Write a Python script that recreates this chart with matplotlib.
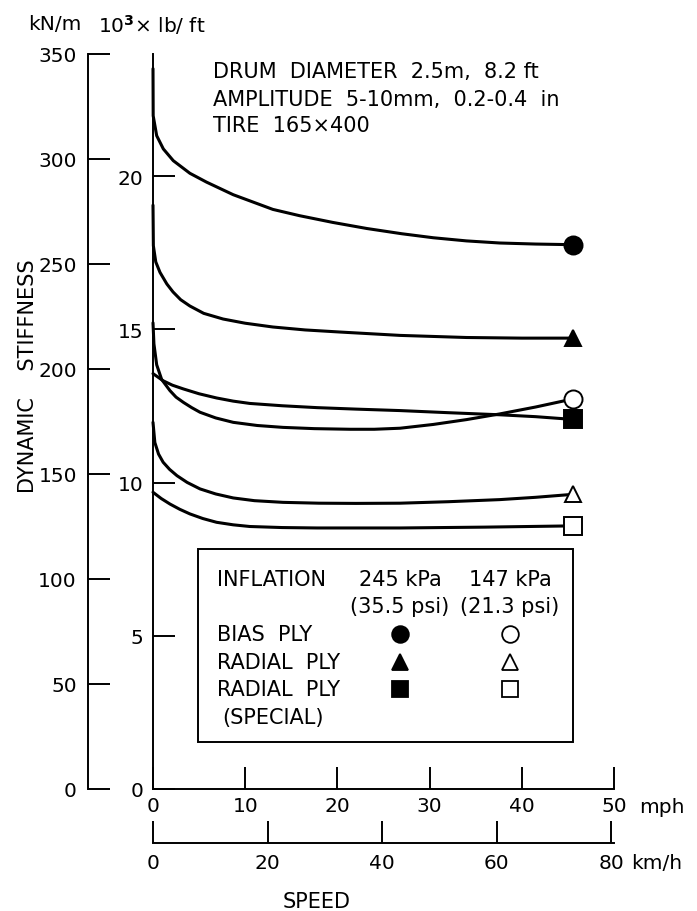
import matplotlib
matplotlib.use("Agg")
import matplotlib.pyplot as plt
from matplotlib.patches import Rectangle

plt.rcParams['font.family'] = ['DejaVu Sans']

# speed in mph, dynamic stiffness in kN/m
bias_245_x = [0, 0.02, 0.4, 1.12, 2.2, 4.0, 5.8, 8.7, 13, 15.9, 19.5, 23.2, 27, 30.4, 34, 37.6, 41.5, 45.5]
bias_245_y = [343, 320.6, 311.1, 304.8, 299.2, 293.2, 289, 283, 276, 273, 269.8, 266.9, 264.4, 262.5, 261, 260, 259.5, 259.2]

radial_245_x = [0, 0.04, 0.3, 0.76, 1.5, 2.17, 3, 4, 5.5, 7.6, 10, 13, 16.5, 20.3, 26.8, 34, 40, 45.5]
radial_245_y = [278, 258.7, 251, 246, 240.5, 236.7, 233, 230, 226.5, 223.8, 221.8, 220, 218.6, 217.6, 216, 215, 214.7, 214.7]

special_245_x = [0, 1.1, 2.1, 3.3, 5, 6.9, 8.7, 10.5, 14, 17.8, 22, 26.8, 32, 37.6, 41.5, 45.5]
special_245_y = [197.8, 194.4, 192.3, 190.5, 188.2, 186.2, 184.7, 183.6, 182.5, 181.6, 180.9, 180.2, 179.2, 178.2, 177.3, 176.0]

bias_147_x = [0, 0.1, 0.4, 0.94, 1.84, 2.5, 3.3, 4.2, 5.1, 6.8, 8.7, 11.3, 14.1, 17.5, 21.4, 24, 26.8, 30.4, 34, 37.6, 41.5, 45.5]
bias_147_y = [222, 212, 202, 195, 189.7, 186.6, 184.1, 181.6, 179.4, 176.7, 174.6, 173.1, 172.2, 171.6, 171.3, 171.3, 171.8, 173.6, 175.9, 178.6, 181.9, 185.7]

radial_147_x = [0, 0.2, 0.6, 1.1, 1.8, 2.6, 3.7, 5.1, 6.8, 8.7, 11, 14.1, 18, 22, 26.8, 32, 37.6, 41.5, 45.5]
radial_147_y = [174.6, 165, 159.5, 155.6, 152.2, 149.2, 146, 142.9, 140.5, 138.6, 137.3, 136.5, 136.1, 136, 136.1, 136.8, 137.8, 138.9, 140.3]

special_147_x = [0, 0.9, 1.84, 2.9, 4, 5.4, 6.9, 8.7, 10.5, 14, 17.8, 26.8, 36, 45.5]
special_147_y = [141.3, 138.3, 135.7, 133.2, 131, 128.8, 127, 125.8, 125, 124.5, 124.3, 124.3, 124.7, 125.3]

kn_ticks = [0, 50, 100, 150, 200, 250, 300, 350]
klb_ticks = [0, 5, 10, 15, 20]
mph_ticks = [0, 10, 20, 30, 40, 50]
kmh_ticks = [0, 20, 40, 60, 80]

KN_PER_KLB = 14.594   # 1000 lb/ft in kN/m
KMH_PER_MPH = 1.609344

W, H = 697, 912
def fx(px):
    return px / W
def fy(py):
    return 1 - py / H

fig = plt.figure(figsize=(W / 100, H / 100), dpi=100)
ax = fig.add_axes([fx(153), fy(790), (614 - 153) / W, (790 - 55) / H])
ax.set_xlim(0, 50)
ax.set_ylim(0, 350)
ax.spines['top'].set_visible(False)
ax.spines['right'].set_visible(False)
for s in ['left', 'bottom']:
    ax.spines[s].set_linewidth(1.4)

fs = 14.5    # tick labels
ft = 15      # other text
lw = 2.2
series = [
    (bias_245_x, bias_245_y, 'o', 'black'),
    (radial_245_x, radial_245_y, '^', 'black'),
    (special_245_x, special_245_y, 's', 'black'),
    (bias_147_x, bias_147_y, 'o', 'white'),
    (radial_147_x, radial_147_y, '^', 'white'),
    (special_147_x, special_147_y, 's', 'white'),
]
for xs, ys, m, fc in series:
    ax.plot(xs, ys, color='black', lw=lw, solid_capstyle='round', solid_joinstyle='round', clip_on=False)
    ax.plot(xs[-1], ys[-1], marker=m, ms=13 if m != '^' else 12, mfc=fc, mec='black',
            mew=1.4, ls='none', clip_on=False)

# lb/ft scale on the main left spine
ax.set_yticks([v * KN_PER_KLB for v in klb_ticks], [str(v) for v in klb_ticks])
ax.tick_params(axis='y', direction='in', length=16, width=1.4, pad=7, labelsize=fs)

# mph scale
ax.set_xticks(mph_ticks, [str(v) for v in mph_ticks])
ax.tick_params(axis='x', direction='in', length=16, width=1.4, pad=5, labelsize=fs)

# kN/m scale on a separate spine further left
sec_y = ax.secondary_yaxis(-65 / 461, functions=(lambda v: v, lambda v: v))
sec_y.set_yticks(kn_ticks, [str(v) for v in kn_ticks])
sec_y.tick_params(direction='in', length=16, width=1.4, pad=8, labelsize=fs)
sec_y.spines['left'].set_linewidth(1.4)

# km/h scale below
sec_x = ax.secondary_xaxis(-54 / 735, functions=(lambda v: v * KMH_PER_MPH, lambda v: v / KMH_PER_MPH))
sec_x.set_xticks(kmh_ticks, [str(v) for v in kmh_ticks])
sec_x.tick_params(direction='in', length=16, width=1.4, pad=7, labelsize=fs)
sec_x.spines['bottom'].set_linewidth(1.4)

# axis titles
fig.text(fx(55), fy(25), 'kN/m', fontsize=fs, ha='center', va='center')
fig.text(fx(152), fy(25), r'10$^{\mathbf{3}}$× lb/ ft', fontsize=fs, ha='center', va='center')
fig.text(fx(28), fy(376), 'DYNAMIC    STIFFNESS', fontsize=ft, rotation=90, ha='center', va='center')
fig.text(fx(662), fy(808), 'mph', fontsize=fs, ha='center', va='center')
fig.text(fx(657), fy(864), 'km/h', fontsize=fs, ha='center', va='center')
fig.text(fx(317), fy(902), 'SPEED', fontsize=ft, ha='center', va='center')

# test conditions
fig.text(fx(213), fy(72.5), 'DRUM  DIAMETER  2.5m,  8.2 ft', fontsize=ft, va='center')
fig.text(fx(213), fy(99.5), 'AMPLITUDE  5-10mm,  0.2-0.4  in', fontsize=ft, va='center')
fig.text(fx(213), fy(125.5), 'TIRE  165×400', fontsize=ft, va='center')

# legend box
fig.patches.append(Rectangle((fx(198), fy(743)), (573 - 198) / W, (743 - 550) / H,
                             transform=fig.transFigure, fill=False, ec='black', lw=1.4))
fig.text(fx(217), fy(580), 'INFLATION', fontsize=ft, va='center')
fig.text(fx(400), fy(580), '245 kPa', fontsize=ft, ha='center', va='center')
fig.text(fx(510), fy(580), '147 kPa', fontsize=ft, ha='center', va='center')
fig.text(fx(400), fy(607), '(35.5 psi)', fontsize=ft, ha='center', va='center')
fig.text(fx(510), fy(607), '(21.3 psi)', fontsize=ft, ha='center', va='center')
rows = [('BIAS  PLY', 'o', 635), ('RADIAL  PLY', '^', 663), ('RADIAL  PLY', 's', 690)]
for label, m, py in rows:
    fig.text(fx(217), fy(py), label, fontsize=ft, va='center')
    for px, fc in [(400, 'black'), (510, 'white')]:
        ax.plot([fx(px)], [fy(py)], marker=m, ms=12 if m != '^' else 11, mfc=fc, mec='black',
                mew=1.3, transform=fig.transFigure, clip_on=False)
fig.text(fx(222), fy(718), '(SPECIAL)', fontsize=ft, va='center')

fig.savefig('out.png', dpi=100)
